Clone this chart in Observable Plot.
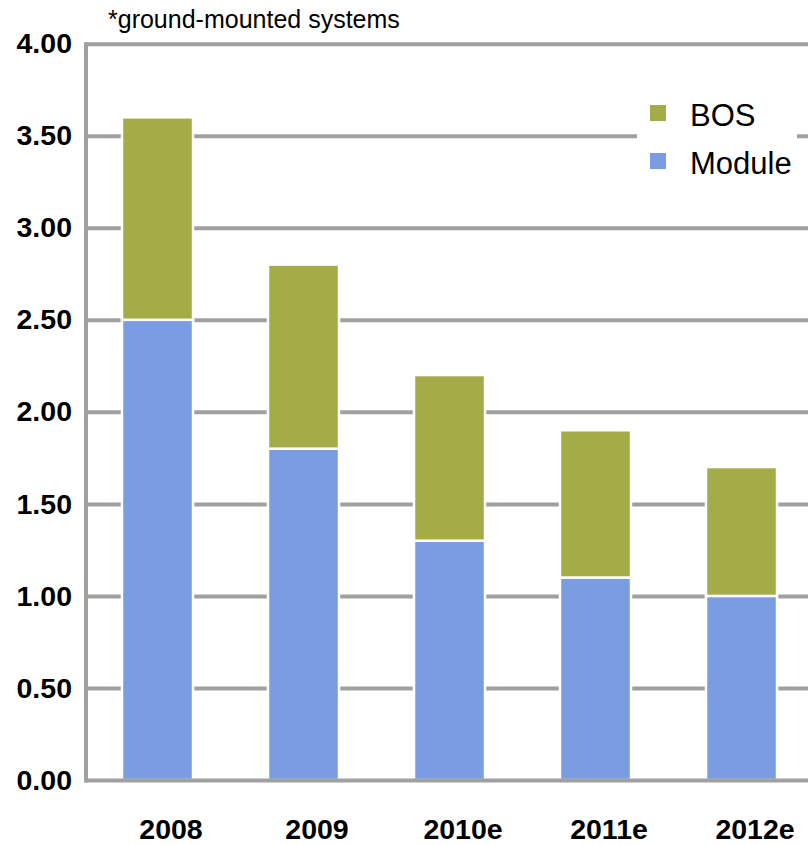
<!DOCTYPE html>
<html>
<head>
<meta charset="utf-8">
<script src="https://cdn.jsdelivr.net/npm/d3@7"></script>
<script src="https://cdn.jsdelivr.net/npm/@observablehq/plot@0.6"></script>
<style>
  html, body { margin: 0; padding: 0; background: #fff; }
  #wrap { position: relative; width: 808px; height: 845px; overflow: hidden; font-family: "Liberation Sans", Arial, sans-serif; }
  #subtitle { position: absolute; left: 108px; top: 7px; font-size: 25px; line-height: 25px; color: #000; white-space: nowrap; }
  #legend { position: absolute; left: 637px; top: 90px; width: 160px; height: 100px; background: #fff; }
  .lg-row { position: absolute; left: 0; white-space: nowrap; font-size: 31px; line-height: 31px; color: #000; }
  .lg-sw { position: absolute; left: 13px; width: 16px; height: 16px; }
  .lg-tx { position: absolute; left: 53px; top: 0; }
</style>
</head>
<body>
<div id="wrap"></div>
<script>
const years = ["2008", "2009", "2010e", "2011e", "2012e"];
const moduleValues = [2.5, 1.8, 1.3, 1.1, 1.0];
const bosValues = [1.1, 1.0, 0.9, 0.8, 0.7];
const seriesNames = ["Module", "BOS"];
const seriesColors = ["#7A9CE1", "#A3AC47"];
const yTicks = [0, 0.5, 1, 1.5, 2, 2.5, 3, 3.5, 4];
const gridValues = [0.5, 1, 1.5, 2, 2.5, 3, 3.5, 4];
const subtitleText = "*ground-mounted systems";

const table = [];
years.forEach((y, i) => {
  table.push({year: y, series: "Module", value: moduleValues[i]});
  table.push({year: y, series: "BOS", value: bosValues[i]});
});

const gray = "#A0A0A0";

const chart = Plot.plot({
  width: 808,
  height: 845,
  marginLeft: 85.5,
  marginRight: 0,
  marginTop: 43.7,
  marginBottom: 65,
  style: {fontFamily: "'Liberation Sans', Arial, sans-serif", background: "#fff", color: "#000"},
  x: {domain: years, range: [84.5, 814.5], paddingInner: 0.517, paddingOuter: 0.2585, label: null},
  y: {domain: [0, 4], label: null},
  color: {domain: seriesNames, range: seriesColors},
  marks: [
    Plot.ruleY(gridValues, {stroke: gray, strokeWidth: 4}),
    Plot.barY(table, {x: "year", y: "value", fill: "series", stroke: "white", strokeWidth: 2.5}),
    Plot.ruleY([0], {stroke: gray, strokeWidth: 4}),
    Plot.frame({anchor: "left", stroke: gray, strokeWidth: 4}),
    Plot.axisY({ticks: yTicks, tickFormat: d3.format(".2f"), tickSize: 0, tickPadding: 14, fontSize: 28.5, fontWeight: "bold", label: null}),
    Plot.axisX({tickSize: 0, tickPadding: 38, dx: 13, fontSize: 28.5, fontWeight: "bold", label: null})
  ]
});

const wrap = document.getElementById("wrap");
wrap.appendChild(chart);

const sub = document.createElement("div");
sub.id = "subtitle";
sub.textContent = subtitleText;
wrap.appendChild(sub);

const legend = document.createElement("div");
legend.id = "legend";
const legendOrder = ["BOS", "Module"];
const rowTops = [10, 58];
legendOrder.forEach((name, i) => {
  const row = document.createElement("div");
  row.className = "lg-row";
  row.style.top = rowTops[i] + "px";
  const sw = document.createElement("div");
  sw.className = "lg-sw";
  sw.style.top = "5px";
  sw.style.background = seriesColors[seriesNames.indexOf(name)];
  const tx = document.createElement("div");
  tx.className = "lg-tx";
  tx.textContent = name;
  row.appendChild(sw);
  row.appendChild(tx);
  legend.appendChild(row);
});
wrap.appendChild(legend);
</script>
</body>
</html>
